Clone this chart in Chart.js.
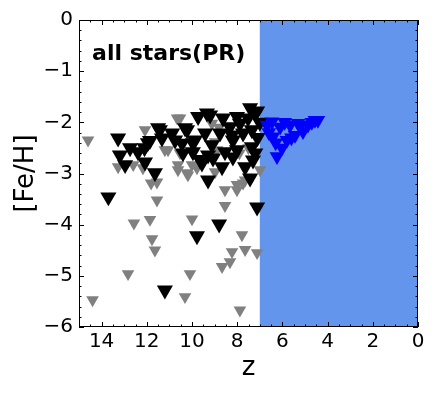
<!DOCTYPE html>
<html>
<head>
<meta charset="utf-8">
<script src="https://cdn.jsdelivr.net/npm/chart.js@4"></script>
<style>
  html, body { margin: 0; padding: 0; background: #fff; }
  #wrap { width: 436px; height: 395px; }
</style>
</head>
<body>
<div id="wrap"><canvas id="c" width="436" height="395"></canvas></div>
<script>
// black: stars below z=7
const blackZ = [13.27, 13.7, 13.19, 12.74, 12.39, 12.96, 12.08, 11.64, 11.5, 11.86, 11.33, 11.42, 10.75, 10.88, 10.31, 10.44, 10.4, 10.22, 9.96, 9.73,
  9.2, 9.34, 8.63, 8.01, 7.52, 7.74, 8.23, 8.76, 9.42, 9.87, 9.96, 9.29, 8.54, 8.01, 7.35, 9.56, 9.07, 8.67, 9.29, 7.65,
  7.3, 7.43, 7.21, 7.12, 7.43, 8.32, 8.19, 7.88, 7.35, 8.19, 9.65, 9.12, 11.2, 7.12, 8.8, 9.78, 7.0, 7.1, 7.2, 11.95, 12.1];
const blackFeH = [-2.31, -3.46, -2.64, -2.5, -2.58, -2.83, -2.78, -2.99, -2.11, -2.36, -2.31, -2.15, -2.35, -2.21, -2.11, -2.41, -2.6, -2.15, -2.4, -1.89,
  -1.86, -1.82, -1.92, -1.89, -1.92, -2.21, -2.25, -2.21, -2.21, -2.35, -2.58, -2.64, -2.58, -2.54, -2.48, -2.8, -2.7, -2.87, -3.13, -2.87,
  -2.74, -3.09, -1.82, -1.78, -1.72, -2.09, -2.35, -2.02, -2.15, -2.68, -2.73, -2.44, -5.28, -3.66, -3.99, -4.22, -2.0, -2.3, -2.6, -2.4, -2.5];

// gray: other stars
const grayZ = [14.6, 14.4, 12.83, 12.57, 11.86, 11.77, 11.64, 11.55, 11.81, 12.08, 13.27, 12.6, 12.17, 11.2, 10.62, 10.18, 10.53, 10.66, 9.12, 9.78,
  8.98, 8.89, 8.54, 8.01, 7.74, 6.99, 11.06, 10.53, 10.62, 10.22, 10.0, 8.98, 8.01, 7.65, 8.54, 10.0, 7.79, 8.23, 7.65, 7.12,
  8.32, 8.67, 10.09, 10.31, 7.88, 8.8, 7.9, 7.5, 11.55];
const grayFeH = [-2.35, -5.47, -4.96, -3.97, -3.9, -4.28, -4.5, -3.52, -3.19, -2.15, -2.87, -2.83, -2.89, -2.54, -2.93, -3.03, -1.92, -1.92, -2.02, -2.89,
  -2.97, -2.54, -3.32, -3.32, -3.19, -2.93, -2.54, -2.6, -2.83, -2.99, -2.83, -2.38, -3.22, -3.13, -3.63, -3.89, -4.2, -4.53, -4.49, -4.55,
  -4.73, -4.82, -4.96, -5.41, -5.67, -2.1, -2.6, -2.5, -3.17];

// blue: stars at z<7
const blueZ = [6.1, 5.66, 5.31, 4.56, 4.87, 5.09, 5.44, 5.8, 6.02, 6.24, 6.42, 6.46, 6.68, 4.43, 5.9, 6.3, 5.6, 6.6, 5.2, 4.7];
const blueFeH = [-2.09, -2.05, -2.02, -1.96, -2.05, -2.18, -2.25, -2.35, -2.5, -2.67, -2.28, -1.99, -2.05, -1.96, -2.0, -2.4, -2.3, -2.2, -2.05, -2.0];

const xTicks = [0, 2, 4, 6, 8, 10, 12, 14];
const yTicks = [-6, -5, -4, -3, -2, -1, 0];
const shadeFrom = 7, shadeTo = 0;
const labelText = 'all stars(PR)';

const FONT = "'DejaVu Sans', sans-serif";

function pts(xs, ys) {
  return xs.map((x, i) => ({ x: x, y: ys[i] }));
}
const minus = v => String(v).replace('-', '\u2212');

// shaded band + frame with inward ticks + label text
const decor = {
  id: 'decor',
  beforeDatasetsDraw(chart) {
    const { ctx, chartArea: a, scales: { x } } = chart;
    const x0 = x.getPixelForValue(shadeFrom), x1 = x.getPixelForValue(shadeTo);
    ctx.save();
    ctx.fillStyle = '#6495ED';
    ctx.fillRect(Math.min(x0, x1), a.top, Math.abs(x1 - x0), a.bottom - a.top);
    ctx.restore();
  },
  afterDatasetsDraw(chart) {
    const { ctx, chartArea: a, scales: { x, y } } = chart;
    ctx.save();
    ctx.strokeStyle = '#000';
    ctx.lineWidth = 1;
    ctx.strokeRect(a.left + 0.5, a.top + 0.5, a.right - a.left - 1, a.bottom - a.top - 1);
    ctx.beginPath();
    for (let i = 0; i <= 30; i++) {
      const v = i * 0.5;
      const px = Math.round(x.getPixelForValue(v)) + 0.5;
      const len = i % 4 === 0 ? 5 : 2.5;
      ctx.moveTo(px, a.bottom); ctx.lineTo(px, a.bottom - len);
      ctx.moveTo(px, a.top); ctx.lineTo(px, a.top + len);
    }
    for (let i = 0; i <= 30; i++) {
      const v = -6 + i * 0.2;
      const py = Math.round(y.getPixelForValue(v)) + 0.5;
      const len = i % 5 === 0 ? 5 : 2.5;
      ctx.moveTo(a.left, py); ctx.lineTo(a.left + len, py);
      ctx.moveTo(a.right, py); ctx.lineTo(a.right - len, py);
    }
    ctx.stroke();
    ctx.fillStyle = '#000';
    ctx.font = 'bold 22px ' + FONT;
    ctx.textBaseline = 'alphabetic';
    ctx.fillText(labelText, x.getPixelForValue(14.42), y.getPixelForValue(-0.78));
    ctx.restore();
  }
};

const tri = (color, r) => ({
  pointStyle: 'triangle',
  rotation: 180,
  pointRadius: r,
  pointHoverRadius: r,
  backgroundColor: color,
  borderColor: color,
  borderWidth: 0,
  showLine: false
});

new Chart(document.getElementById('c'), {
  type: 'scatter',
  data: {
    datasets: [
      Object.assign({ label: 'z<7', data: pts(blueZ, blueFeH), order: 1 }, tri('#0000FF', 8.5)),
      Object.assign({ label: 'black', data: pts(blackZ, blackFeH), order: 2 }, tri('#000000', 9.3)),
      Object.assign({ label: 'gray', data: pts(grayZ, grayFeH), order: 3 }, tri('#808080', 7.3))
    ]
  },
  plugins: [decor],
  options: {
    responsive: false,
    animation: false,
    devicePixelRatio: 1,
    layout: { padding: { top: 20, right: 18, left: 0, bottom: 0 } },
    plugins: { legend: { display: false }, tooltip: { enabled: false } },
    scales: {
      x: {
        type: 'linear',
        reverse: true,
        min: 0,
        max: 15,
        grid: { display: false, drawTicks: false },
        border: { display: false },
        afterFit: s => { s.height = 68; },
        afterBuildTicks: s => { s.ticks = xTicks.map(v => ({ value: v })); },
        ticks: { color: '#000', font: { family: FONT, size: 20 }, padding: 3, maxRotation: 0 },
        title: { display: true, text: 'z', color: '#000', font: { family: FONT, size: 26 }, padding: { top: 0, bottom: 11 } }
      },
      y: {
        type: 'linear',
        min: -6,
        max: 0,
        grid: { display: false, drawTicks: false },
        border: { display: false },
        afterFit: s => { s.width = 79; },
        afterBuildTicks: s => { s.ticks = yTicks.map(v => ({ value: v })); },
        ticks: { color: '#000', font: { family: FONT, size: 20 }, padding: 6, callback: v => minus(v) },
        title: { display: true, text: '[Fe/H]', color: '#000', font: { family: FONT, size: 26 }, padding: { top: 11, bottom: 0 } }
      }
    }
  }
});
</script>
</body>
</html>
